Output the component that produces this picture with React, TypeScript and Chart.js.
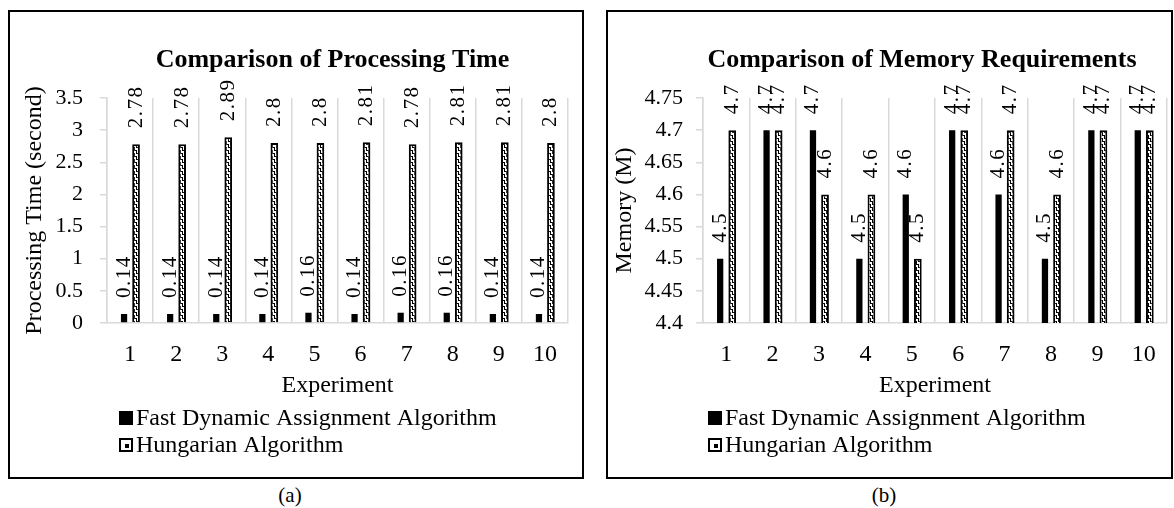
import React, { useEffect, useRef } from "react";
import { Chart, registerables } from "chart.js";

Chart.register(...registerables);

// ---------- data ----------
const experiments = ["1", "2", "3", "4", "5", "6", "7", "8", "9", "10"];
const seriesNames = ["Fast Dynamic Assignment Algorithm", "Hungarian Algorithm"];

const timeFast = [0.14, 0.14, 0.14, 0.14, 0.16, 0.14, 0.16, 0.16, 0.14, 0.14];
const timeHungarian = [2.78, 2.78, 2.89, 2.8, 2.8, 2.81, 2.78, 2.81, 2.81, 2.8];
const timeAxis = [0, 3.5, 0.5]; // min, max, step

const memFast = [4.5, 4.7, 4.7, 4.5, 4.6, 4.7, 4.6, 4.5, 4.7, 4.7];
const memHungarian = [4.7, 4.7, 4.6, 4.6, 4.5, 4.7, 4.7, 4.6, 4.7, 4.7];
const memAxis = [4.4, 4.75, 0.05];

const titles = ["Comparison of Processing Time", "Comparison of Memory Requirements"];
const yTitles = ["Processing Time (second)", "Memory (M)"];
const xTitle = "Experiment";
const captions = ["(a)", "(b)"];

const FONT = "'Liberation Serif', 'Times New Roman', Times, serif";
Chart.defaults.font.family = FONT;
Chart.defaults.color = "#000";

function makePattern(ctx: CanvasRenderingContext2D): CanvasPattern | string {
  const c = document.createElement("canvas");
  c.width = 4;
  c.height = 6;
  const p = c.getContext("2d");
  if (!p) return "#fff";
  p.fillStyle = "#fff";
  p.fillRect(0, 0, 4, 6);
  p.fillStyle = "#000";
  p.fillRect(0, 0, 3, 1);
  p.fillRect(2, 1, 1, 2);
  p.fillRect(2, 3, 2, 1);
  p.fillRect(0, 3, 1, 3);
  return ctx.createPattern(c, "repeat") || "#fff";
}

const valueLabels = {
  id: "valueLabels",
  afterDatasetsDraw(chart: any) {
    const ctx = chart.ctx as any;
    ctx.save();
    ctx.font = `21px ${FONT}`;
    if ("letterSpacing" in ctx) ctx.letterSpacing = "1.5px";
    ctx.fillStyle = "#000";
    ctx.textAlign = "left";
    ctx.textBaseline = "middle";
    chart.data.datasets.forEach((ds: any, di: number) => {
      const meta = chart.getDatasetMeta(di);
      meta.data.forEach((bar: any, i: number) => {
        ctx.save();
        ctx.translate(bar.x, bar.y - 16);
        ctx.rotate(-Math.PI / 2);
        ctx.fillText(String(ds.data[i]), 0, 0);
        ctx.restore();
      });
    });
    ctx.restore();
  },
};

function makeTitle(text: string, shift: number, baseline: number) {
  return {
    id: "panelTitle",
    afterDraw(chart: any) {
      const ctx = chart.ctx as CanvasRenderingContext2D;
      const area = chart.chartArea;
      ctx.save();
      ctx.font = `bold 26px ${FONT}`;
      ctx.fillStyle = "#000";
      ctx.textAlign = "center";
      ctx.textBaseline = "alphabetic";
      ctx.fillText(text, (area.left + area.right) / 2 + shift, baseline);
      ctx.restore();
    },
  };
}

function makeLegend(dx: number, dy: number) {
  return {
    id: "sideLegend",
    afterDraw(chart: any) {
      const ctx = chart.ctx as CanvasRenderingContext2D;
      const area = chart.chartArea;
      ctx.save();
      ctx.font = `24px ${FONT}`;
      ctx.textAlign = "left";
      ctx.textBaseline = "middle";
      chart.data.datasets.forEach((ds: any, i: number) => {
        const y = area.bottom + dy + i * 27;
        const x = area.left + dx;
        if (i === 0) {
          ctx.fillStyle = "#000";
          ctx.fillRect(x, y - 7, 14, 14);
        } else {
          ctx.fillStyle = "#fff";
          ctx.fillRect(x, y - 7, 14, 14);
          ctx.strokeStyle = "#000";
          ctx.lineWidth = 2;
          ctx.strokeRect(x + 1, y - 6, 12, 12);
          ctx.fillStyle = "#000";
          ctx.fillRect(x + 6, y - 1, 4, 4);
        }
        ctx.fillStyle = "#000";
        ctx.fillText(ds.label, x + 17, y + 1);
      });
      ctx.restore();
    },
  };
}

type PanelProps = {
  left: number;
  top: number;
  width: number;
  height: number;
  title: string;
  titleShift: number;
  yTitle: string;
  fast: number[];
  hung: number[];
  axis: number[];
  yWidth: number;
  yTitlePad: number;
  yTickPad: number;
  rightPad: number;
  legendDx: number;
};

function BarPanel(props: PanelProps) {
  const ref = useRef<HTMLCanvasElement>(null);
  const cw = props.width - 4;
  const ch = props.height - 4;
  useEffect(() => {
    const canvas = ref.current;
    if (!canvas) return;
    const ctx = canvas.getContext("2d");
    if (!ctx) return;
    const pattern = makePattern(ctx);
    const [min, max, step] = props.axis;
    const chart = new Chart(canvas, {
      type: "bar",
      data: {
        labels: experiments,
        datasets: [
          {
            label: seriesNames[0],
            data: props.fast,
            backgroundColor: "#000",
            borderWidth: 0,
            categoryPercentage: 0.52,
            barPercentage: 0.52,
          },
          {
            label: seriesNames[1],
            data: props.hung,
            backgroundColor: pattern as any,
            borderColor: "#000",
            borderWidth: 2,
            categoryPercentage: 0.52,
            barPercentage: 0.64,
          },
        ],
      },
      options: {
        responsive: false,
        animation: false,
        layout: { padding: { top: 86, left: 0, right: props.rightPad, bottom: 74 } },
        plugins: {
          legend: { display: false },
          tooltip: { enabled: false },
          title: { display: false },
        },
        scales: {
          x: {
            grid: { color: "#d9d9d9", offset: true, drawTicks: false, lineWidth: 1.5 },
            border: { color: "#d9d9d9", width: 1.5 },
            ticks: { font: { size: 24, family: FONT }, color: "#000", padding: 17, maxRotation: 0, autoSkip: false },
            title: {
              display: true,
              text: xTitle,
              color: "#000",
              font: { size: 24, family: FONT },
              padding: { top: 0, bottom: 3 },
            },
            afterFit(s: any) {
              s.height = 80;
              s.paddingLeft = 0;
              s.paddingRight = 0;
            },
          },
          y: {
            min,
            max,
            ticks: {
              stepSize: step,
              font: { size: 22, family: FONT },
              color: "#000",
              padding: props.yTickPad,
              callback: (v: any) => String(parseFloat(Number(v).toFixed(2))),
            },
            grid: { drawOnChartArea: false, color: "#d9d9d9", tickLength: 7, lineWidth: 1.5 },
            border: { color: "#d9d9d9", width: 1.5 },
            title: {
              display: true,
              text: props.yTitle,
              color: "#000",
              font: { size: 24, family: FONT },
              padding: { top: props.yTitlePad, bottom: 0 },
            },
            afterFit(s: any) {
              s.width = props.yWidth;
              s.paddingTop = 0;
              s.paddingBottom = 0;
            },
          },
        },
      } as any,
      plugins: [valueLabels, makeTitle(props.title, props.titleShift, 55), makeLegend(props.legendDx, 95)],
    });
    return () => chart.destroy();
  }, []);
  return (
    <div
      style={{
        position: "absolute",
        left: props.left,
        top: props.top,
        width: props.width,
        height: props.height,
        border: "2px solid #000",
        boxSizing: "border-box",
        background: "#fff",
      }}
    >
      <canvas ref={ref} width={cw} height={ch} style={{ display: "block", width: cw, height: ch }} />
    </div>
  );
}

const captionStyle = (x: number): React.CSSProperties => ({
  position: "absolute",
  left: x,
  top: 483,
  transform: "translateX(-50%)",
  fontFamily: FONT,
  fontSize: 21,
  color: "#000",
  whiteSpace: "nowrap",
});

export default function App() {
  return (
    <div>
      <BarPanel
        left={8}
        top={10}
        width={576}
        height={469}
        title={titles[0]}
        titleShift={-5}
        yTitle={yTitles[0]}
        fast={timeFast}
        hung={timeHungarian}
        axis={timeAxis}
        yWidth={97}
        yTitlePad={10.6}
        yTickPad={17}
        rightPad={14}
        legendDx={12}
      />
      <BarPanel
        left={606}
        top={10}
        width={567}
        height={469}
        title={titles[1]}
        titleShift={-13}
        yTitle={yTitles[1]}
        fast={memFast}
        hung={memHungarian}
        axis={memAxis}
        yWidth={95}
        yTitlePad={2.6}
        yTickPad={13}
        rightPad={4}
        legendDx={5}
      />
      <div style={captionStyle(290)}>{captions[0]}</div>
      <div style={captionStyle(884)}>{captions[1]}</div>
    </div>
  );
}
